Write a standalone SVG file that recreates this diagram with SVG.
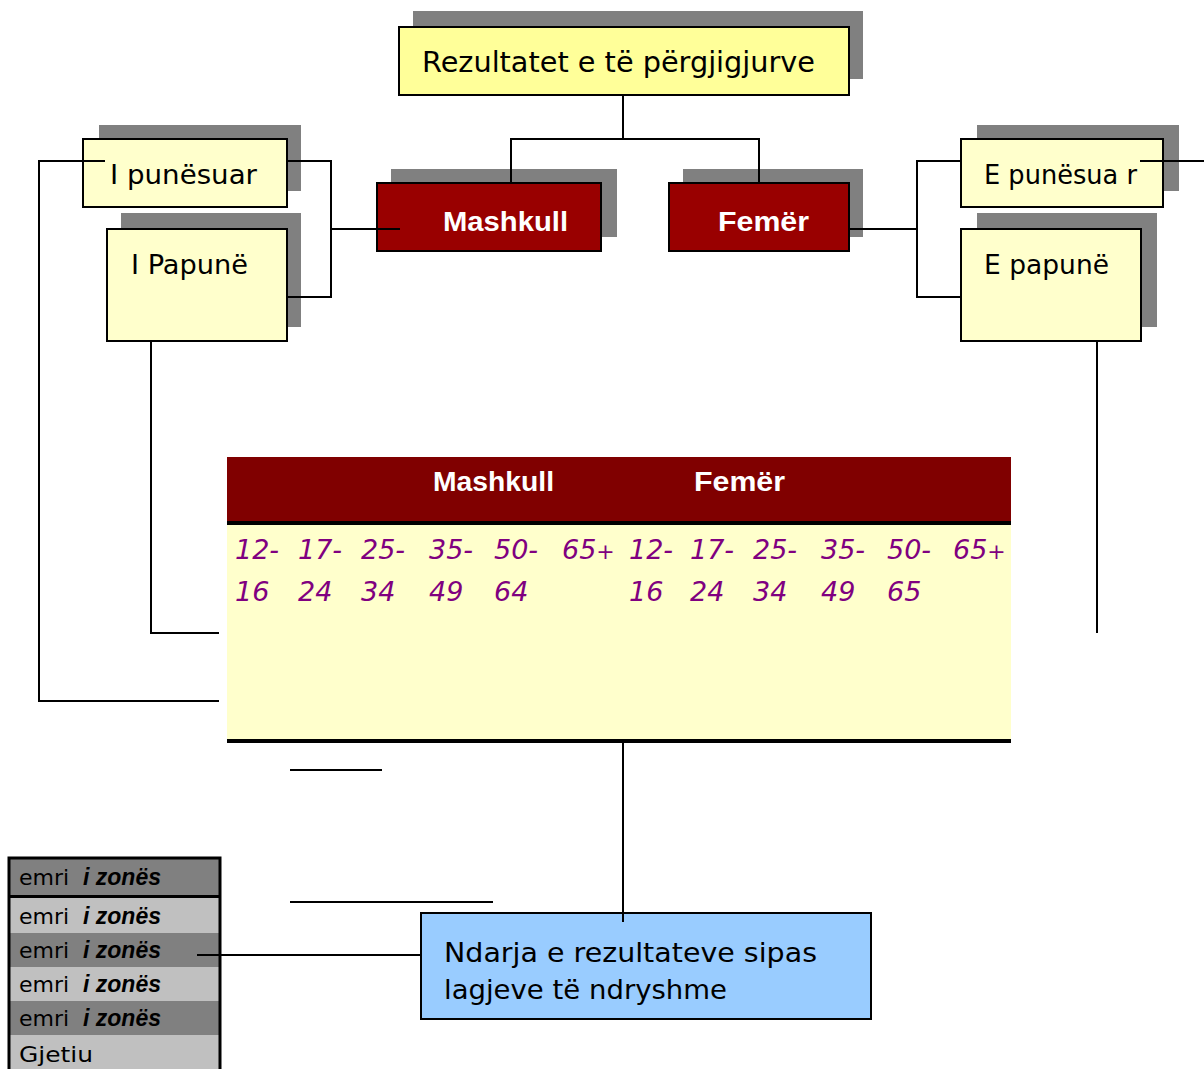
<svg xmlns="http://www.w3.org/2000/svg" width="1204" height="1069" viewBox="0 0 1204 1069">
<style>
.sh{fill:#808080}
.yl{fill:#FFFF99;stroke:#000;stroke-width:2}
.py{fill:#FFFFCC;stroke:#000;stroke-width:2}
.rd{fill:#990000;stroke:#000;stroke-width:2}
.t{font-family:"DejaVu Sans","Liberation Sans",sans-serif;fill:#000}
.w{font-family:"Liberation Sans","DejaVu Sans",sans-serif;font-weight:bold;fill:#fff;font-size:27px}
.n{font-family:"DejaVu Sans","Liberation Sans",sans-serif;font-style:italic;fill:#800080;font-size:27px}
.c{fill:none;stroke:#000;stroke-width:2}
.e{font-family:"DejaVu Sans","Liberation Sans",sans-serif;font-size:22px;fill:#000}
.b{font-family:"Liberation Sans",sans-serif;font-weight:bold;font-style:italic;font-size:23px}
</style>
<rect width="1204" height="1069" fill="#fff"/>
<g id="top">
<rect class="sh" x="413" y="11" width="450" height="68"/>
<rect class="yl" x="399" y="27" width="450" height="68"/>
<text class="t" x="422" y="72" font-size="28" textLength="393" lengthAdjust="spacingAndGlyphs">Rezultatet e të përgjigjurve</text>
</g>
<g id="mashkull">
<rect class="sh" x="391" y="169" width="226" height="68"/>
<rect class="rd" x="377" y="183" width="224" height="68"/>
<text class="w" x="443" y="231" textLength="125" lengthAdjust="spacingAndGlyphs">Mashkull</text>
</g>
<g id="femer">
<rect class="sh" x="683" y="169" width="180" height="68"/>
<rect class="rd" x="669" y="183" width="180" height="68"/>
<text class="w" x="718" y="231" textLength="91" lengthAdjust="spacingAndGlyphs">Femër</text>
</g>
<g id="i-punesuar">
<rect class="sh" x="99" y="125" width="202" height="66"/>
<rect class="py" x="83" y="139" width="204" height="68"/>
<text class="t" x="110" y="184" font-size="27" textLength="147" lengthAdjust="spacingAndGlyphs">I punësuar</text>
</g>
<g id="i-papune">
<rect class="sh" x="121" y="213" width="180" height="114"/>
<rect class="py" x="107" y="229" width="180" height="112"/>
<text class="t" x="131" y="274" font-size="27" textLength="117" lengthAdjust="spacingAndGlyphs">I Papunë</text>
</g>
<g id="e-punesuar">
<rect class="sh" x="977" y="125" width="202" height="66"/>
<rect class="py" x="961" y="139" width="202" height="68"/>
<text class="t" x="984" y="184" font-size="27" textLength="153" lengthAdjust="spacingAndGlyphs">E punësua r</text>
</g>
<g id="e-papune">
<rect class="sh" x="977" y="213" width="180" height="114"/>
<rect class="py" x="961" y="229" width="180" height="112"/>
<text class="t" x="984" y="274" font-size="27" textLength="125" lengthAdjust="spacingAndGlyphs">E papunë</text>
</g>
<g id="table">
<rect x="227" y="457" width="784" height="65" fill="#800000"/>
<rect x="227" y="525" width="784" height="214" fill="#FFFFCC"/>
<rect x="227" y="521" width="784" height="4" fill="#000"/>
<rect x="227" y="739" width="784" height="4" fill="#000"/>
<text class="w" x="433" y="491" textLength="121" lengthAdjust="spacingAndGlyphs">Mashkull</text>
<text class="w" x="694" y="491" textLength="91" lengthAdjust="spacingAndGlyphs">Femër</text>
<g class="n">
<text x="235" y="559">12-</text><text x="298" y="559">17-</text><text x="361" y="559">25-</text><text x="429" y="559">35-</text><text x="494" y="559">50-</text><text x="562" y="559">65<tspan font-size="22">+</tspan></text>
<text x="629" y="559">12-</text><text x="690" y="559">17-</text><text x="753" y="559">25-</text><text x="821" y="559">35-</text><text x="887" y="559">50-</text><text x="953" y="559">65<tspan font-size="22">+</tspan></text>
<text x="235" y="601">16</text><text x="298" y="601">24</text><text x="361" y="601">34</text><text x="429" y="601">49</text><text x="494" y="601">64</text>
<text x="629" y="601">16</text><text x="690" y="601">24</text><text x="753" y="601">34</text><text x="821" y="601">49</text><text x="887" y="601">65</text>
</g>
</g>
<g id="ndarja">
<rect x="421" y="913" width="450" height="106" fill="#99CCFF" stroke="#000" stroke-width="2"/>
<text class="t" x="444" y="962" font-size="27" textLength="373" lengthAdjust="spacingAndGlyphs">Ndarja e rezultateve sipas</text>
<text class="t" x="444" y="999" font-size="27" textLength="283" lengthAdjust="spacingAndGlyphs">lagjeve të ndryshme</text>
</g>
<g id="zonat">
<rect x="9" y="858" width="211" height="213" fill="#C0C0C0"/>
<rect x="9" y="858" width="211" height="38" fill="#808080"/>
<rect x="9" y="933" width="211" height="34" fill="#808080"/>
<rect x="9" y="1001" width="211" height="34" fill="#808080"/>
<rect x="9" y="895" width="211" height="3" fill="#000"/>
<path d="M9,1069 V858 H220 V1069" fill="none" stroke="#000" stroke-width="3"/>
<text class="e" x="19" y="885">emri<tspan class="b" x="83">i zonës</tspan></text>
<text class="e" x="19" y="924">emri<tspan class="b" x="83">i zonës</tspan></text>
<text class="e" x="19" y="958">emri<tspan class="b" x="83">i zonës</tspan></text>
<text class="e" x="19" y="992">emri<tspan class="b" x="83">i zonës</tspan></text>
<text class="e" x="19" y="1026">emri<tspan class="b" x="83">i zonës</tspan></text>
<text class="e" x="19" y="1062" textLength="74" lengthAdjust="spacingAndGlyphs">Gjetiu</text>
</g>
<g id="connectors">
<path class="c" d="M623,95 V139 M511,184 V139 H759 V184"/>
<path class="c" d="M400,229 H331 M287,161 H331 V297 H287"/>
<path class="c" d="M105,161 H39 V701 H219"/>
<path class="c" d="M151,341 V633 H219"/>
<path class="c" d="M849,229 H917 M961,161 H917 V297 H961"/>
<path class="c" d="M1140,161 H1204"/>
<path class="c" d="M1097,341 V633"/>
<path class="c" d="M623,743 V922"/>
<path class="c" d="M290,770 H382 M290,902 H493"/>
<path class="c" d="M197,955 H421"/>
</g>
</svg>
